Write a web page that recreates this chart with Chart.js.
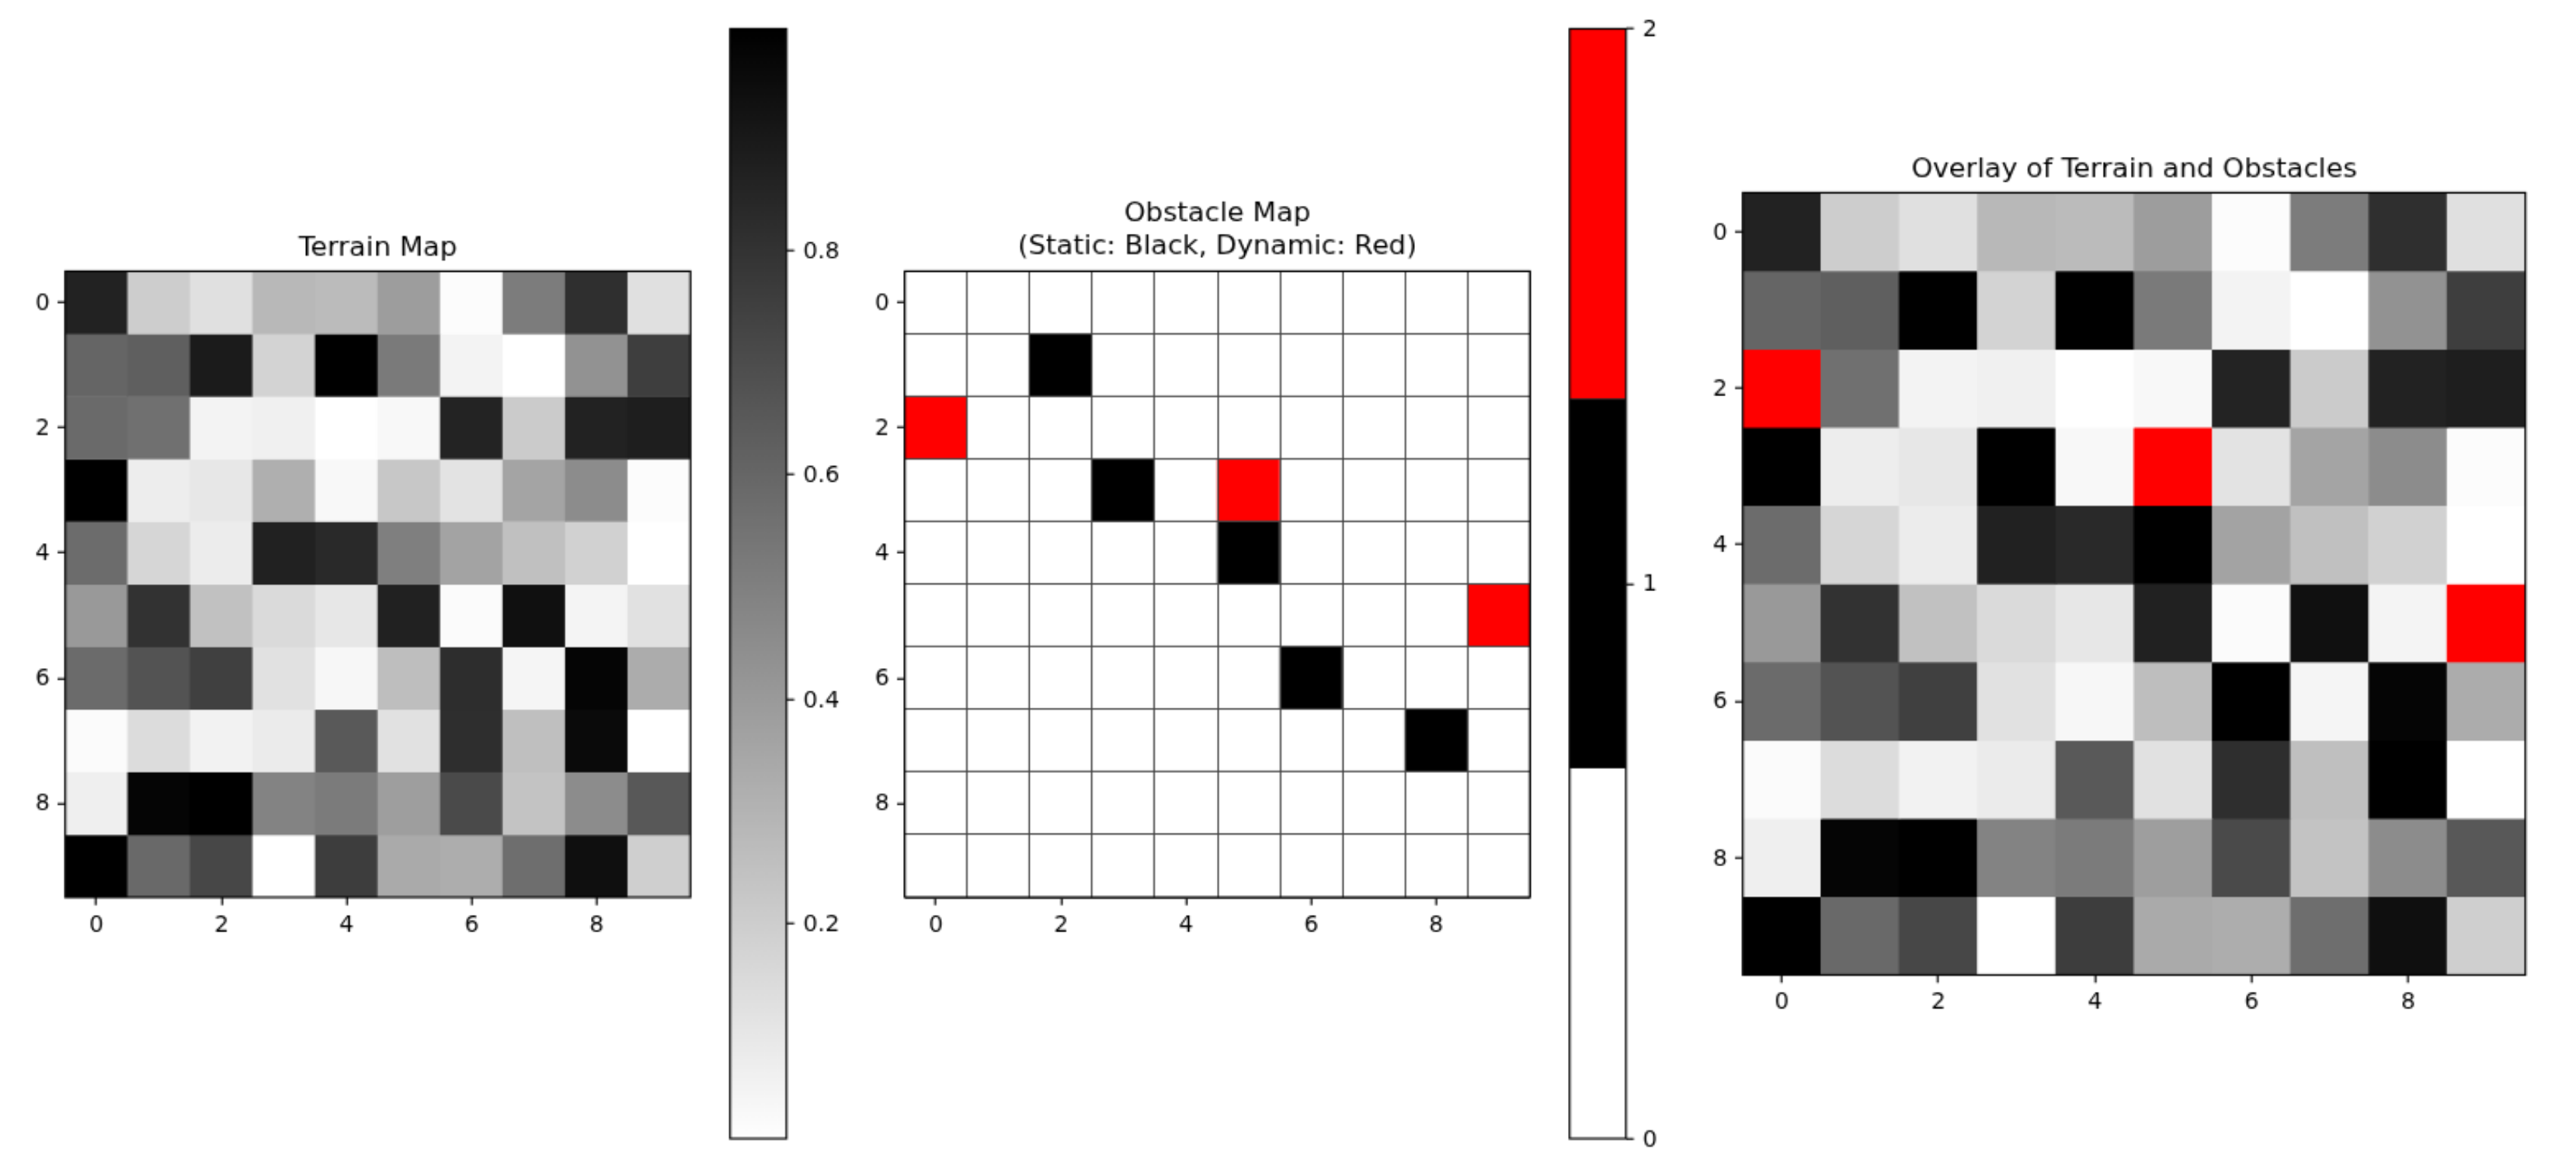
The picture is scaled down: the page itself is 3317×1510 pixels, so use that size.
<!DOCTYPE html>
<html>
<head>
<meta charset="utf-8">
<script src="https://cdn.jsdelivr.net/npm/chart.js@4"></script>
<style>
html,body{margin:0;padding:0;background:#fff;width:3317px;height:1510px;overflow:hidden}
canvas{position:absolute}
</style>
</head>
<body>
<canvas id="terrain"></canvas>
<canvas id="terrainBar"></canvas>
<canvas id="obstacle"></canvas>
<canvas id="obstacleBar"></canvas>
<canvas id="overlay"></canvas>
<script>
const cellIndex = [0,1,2,3,4,5,6,7,8,9];
const axisTicks = [0,2,4,6,8];
const terrainTicks = [0.2,0.4,0.6,0.8];
const terrainRange = [0.009,0.997];
const obstacleTicks = [0,1,2];
const obstacleSegments = [[0,0.667],[0.667,1.333],[1.333,2]];
const obstacleColors = ['#ffffff','#000000','#ff0000'];
const staticCells = [[1,2],[3,3],[4,5],[6,6],[7,8]];
const dynamicCells = [[2,0],[3,5],[5,9]];
const terrain0 = [.865,.203,.129,.284,.272,.389,.021,.517,.815,.129];
const terrain1 = [.606,.629,.892,.179,.997,.524,.055,.009,.431,.757];
const terrain2 = [.586,.563,.055,.067,.009,.036,.861,.210,.865,.881];
const terrain3 = [.997,.079,.102,.319,.036,.226,.117,.361,.455,.021];
const terrain4 = [.579,.168,.083,.869,.838,.505,.365,.253,.187,.009];
const terrain5 = [.404,.803,.249,.152,.102,.869,.024,.935,.052,.125];
const terrain6 = [.582,.675,.749,.125,.040,.261,.823,.048,.978,.331];
const terrain7 = [.024,.144,.059,.086,.652,.125,.819,.257,.958,.009];
const terrain8 = [.071,.978,.997,.489,.520,.385,.710,.241,.455,.656];
const terrain9 = [.997,.590,.722,.009,.761,.338,.327,.571,.939,.195];
const terrain = [terrain0,terrain1,terrain2,terrain3,terrain4,terrain5,terrain6,terrain7,terrain8,terrain9];

const FONT = '"DejaVu Sans"';
const TICK = 29.4, TITLE = 35.2;
const DPR = 1568/3317;
Chart.defaults.font.family = FONT;
Chart.defaults.color = '#000';

function gray(v){
  const t = Math.max(0,Math.min(1,(v-terrainRange[0])/(terrainRange[1]-terrainRange[0])));
  const g = Math.round(255*(1-t));
  return `rgb(${g},${g},${g})`;
}
const frame = {id:'frame',afterDraw(c){
  const a=c.chartArea,x=c.ctx;
  x.save();x.strokeStyle='#000';x.lineWidth=2.4;
  x.strokeRect(a.left,a.top,a.right-a.left,a.bottom-a.top);
  x.restore();
}};
function place(id,l,t,w,h){
  const e=document.getElementById(id);
  e.style.left=l+'px';e.style.top=t+'px';e.width=w;e.height=h;
  e.style.width=w+'px';e.style.height=h+'px';
  return e.getContext('2d');
}
const tickGrid = {drawOnChartArea:false,drawTicks:true,tickLength:10,tickWidth:2.4,tickColor:'#000',offset:false};

function heatmap(id,ax,colorAt,title,titleGap,grid){
  const m=84, T=130, B=90;
  const ctx=place(id,ax.l-m,ax.t-T,ax.s+2*m,ax.s+T+B);
  const lines=Array.isArray(title)?title.length:1;
  const h=lines*TITLE*1.2;
  const datasets=cellIndex.map(r=>({
    data:cellIndex.map(c=>({x:c,y:[r-0.505,r+0.505]})),
    backgroundColor:cellIndex.map(c=>colorAt(r,c)),
    borderWidth:0,grouped:false,barPercentage:1.012,categoryPercentage:1
  }));
  const scales={
    x:{type:'linear',position:'bottom',min:-0.5,max:9.5,offset:false,
       afterBuildTicks:s=>{s.ticks=axisTicks.map(v=>({value:v}))},
       afterFit:s=>{s.height=B},
       grid:tickGrid,border:{display:false},
       ticks:{autoSkip:false,maxRotation:0,padding:9,font:{size:TICK},color:'#000',callback:v=>String(v)}},
    y:{type:'linear',position:'left',reverse:true,min:-0.5,max:9.5,
       afterBuildTicks:s=>{s.ticks=axisTicks.map(v=>({value:v}))},
       afterFit:s=>{s.width=m},
       grid:tickGrid,border:{display:false},
       ticks:{autoSkip:false,padding:10,labelOffset:2,font:{size:TICK},color:'#000',callback:v=>String(v)}},
    yMargin:{type:'linear',position:'right',min:0,max:1,
       afterFit:s=>{s.width=m},
       grid:{display:false},border:{display:false},ticks:{display:false}}
  };
  if(grid){
    const boundaries=cellIndex.map(v=>v-0.5).concat([9.5]);
    const gridOpt={z:1,drawTicks:false,color:'#444444',lineWidth:2,offset:false};
    scales.x2={type:'linear',position:'bottom',min:-0.5,max:9.5,offset:false,
      afterBuildTicks:s=>{s.ticks=boundaries.map(v=>({value:v}))},
      afterFit:s=>{s.height=0},grid:gridOpt,border:{display:false},ticks:{display:false,autoSkip:false}};
    scales.y2={type:'linear',position:'left',reverse:true,min:-0.5,max:9.5,
      afterBuildTicks:s=>{s.ticks=boundaries.map(v=>({value:v}))},
      afterFit:s=>{s.width=0},grid:gridOpt,border:{display:false},ticks:{display:false,autoSkip:false}};
  }
  return new Chart(ctx,{type:'bar',data:{datasets},plugins:[frame],options:{
    responsive:false,animation:false,devicePixelRatio:DPR,
    layout:{padding:0},
    plugins:{legend:{display:false},tooltip:{enabled:false},
      title:{display:true,text:title,color:'#000',font:{size:TITLE,weight:'normal',lineHeight:1.2},
        padding:{top:T-h-titleGap,bottom:titleGap}}},
    scales}});
}
function colorbar(id,ax,datasets,ticks){
  const m=10, R=110;
  const ctx=place(id,ax.l-m,0,ax.w+m+R,1510);
  return new Chart(ctx,{type:'bar',data:{labels:[''],datasets},plugins:[frame],options:{
    responsive:false,animation:false,devicePixelRatio:DPR,
    layout:{padding:{left:m,right:0,top:ax.t,bottom:1510-ax.b}},
    plugins:{legend:{display:false},tooltip:{enabled:false},title:{display:false}},
    scales:{
      x:{display:false,offset:true},
      y:{type:'linear',position:'right',min:ax.min,max:ax.max,
         afterBuildTicks:s=>{s.ticks=ticks.map(v=>({value:v}))},
         afterFit:s=>{s.width=R},
         grid:tickGrid,border:{display:false},
         ticks:{autoSkip:false,padding:11,labelOffset:2,font:{size:TICK},color:'#000',callback:v=>String(v)}}
    }}});
}
const has=(list,r,c)=>list.some(p=>p[0]===r&&p[1]===c);

heatmap('terrain',{l:84,t:349,s:805},(r,c)=>gray(terrain[r][c]),'Terrain Map',8,false);
heatmap('obstacle',{l:1165,t:349,s:805},(r,c)=>has(dynamicCells,r,c)?obstacleColors[2]:has(staticCells,r,c)?obstacleColors[1]:obstacleColors[0],
  ['Obstacle Map','(Static: Black, Dynamic: Red)'],10,true);
heatmap('overlay',{l:2243.5,t:247.5,s:1007.5},(r,c)=>has(dynamicCells,r,c)?obstacleColors[2]:has(staticCells,r,c)?obstacleColors[1]:gray(terrain[r][c]),
  'Overlay of Terrain and Obstacles',8,false);

colorbar('terrainBar',{l:939.5,w:72.5,t:37,b:1464,min:terrainRange[0],max:terrainRange[1]},
  [{data:[terrainRange],borderWidth:0,barPercentage:1,categoryPercentage:1,
    backgroundColor:c=>{const a=c.chart.chartArea;if(!a)return '#000';
      const g=c.chart.ctx.createLinearGradient(0,a.bottom,0,a.top);
      g.addColorStop(0,'#fff');g.addColorStop(1,'#000');return g;}}],terrainTicks);
colorbar('obstacleBar',{l:2020.5,w:72.5,t:37,b:1464,min:0,max:2},
  obstacleSegments.map((seg,i)=>({data:[seg],backgroundColor:obstacleColors[i],borderWidth:0,grouped:false,barPercentage:1,categoryPercentage:1})),obstacleTicks);
</script>
</body>
</html>
